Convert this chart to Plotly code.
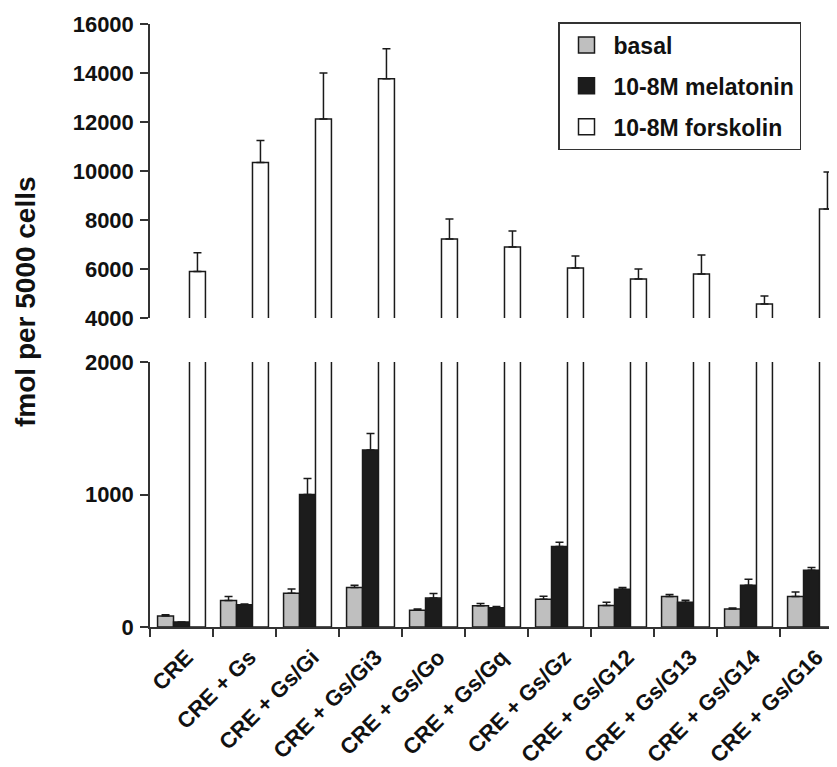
import plotly.graph_objects as go

categories = ["CRE", "CRE + Gs", "CRE + Gs/Gi", "CRE + Gs/Gi3", "CRE + Gs/Go",
              "CRE + Gs/Gq", "CRE + Gs/Gz", "CRE + Gs/G12", "CRE + Gs/G13",
              "CRE + Gs/G14", "CRE + Gs/G16"]
basal = [83, 200, 255, 298, 127, 160, 210, 162, 230, 135, 230]
basal_err = [10, 30, 32, 18, 8, 18, 22, 25, 15, 8, 35]
melatonin = [38, 167, 1000, 1335, 218, 145, 607, 284, 186, 315, 428]
melatonin_err = [0, 7, 120, 125, 35, 10, 33, 14, 15, 45, 22]
forskolin = [5900, 10350, 12120, 13770, 7220, 6900, 6040, 5590, 5800, 4570, 8450]
forskolin_err = [760, 890, 1880, 1220, 820, 650, 490, 410, 770, 330, 1510]

top_ticks = [4000, 6000, 8000, 10000, 12000, 14000, 16000]
top_tick_text = ["4000", "6000", "8000", "10000", "12000", "14000", "16000"]
bottom_ticks = [0, 1000, 2000]
bottom_tick_text = ["0", "1000", "2000"]

series = [
    ("basal", basal, basal_err, "#bfbfbf"),
    ("10-8M melatonin", melatonin, melatonin_err, "#1c1c1c"),
    ("10-8M forskolin", forskolin, forskolin_err, "#ffffff"),
]

xpos = list(range(len(categories)))
label_pos = [p + 0.08 for p in xpos]
EDGE = "#1a1a1a"
FONT = "Liberation Sans"

fig = go.Figure()
for xa, ya in (("x", "y"), ("x2", "y2")):
    for name, vals, errs, color in series:
        fig.add_trace(go.Bar(
            x=xpos, y=vals, name=name, xaxis=xa, yaxis=ya,
            marker=dict(color=color, line=dict(color=EDGE, width=1.5)),
            error_y=dict(type="data", symmetric=False, array=errs,
                         arrayminus=[0] * len(errs), color=EDGE,
                         thickness=1.5, width=4),
            showlegend=False,
        ))

# legend entries
for i, (name, vals, errs, color) in enumerate(series):
    fig.add_trace(go.Scatter(
        x=[None], y=[None], mode="markers", name=name, legendgroup=str(i),
        marker=dict(symbol="square", size=24, color=color,
                    line=dict(color=EDGE, width=1.5)),
        xaxis="x", yaxis="y",
    ))

# page body has an 8px margin: work in figure coords = screen - 8
W, H = 829, 759
l, r, t, b = 142, 0, 16, 140
ph = H - t - b
pw = W - l - r
top_dom = [(627 - 318) / ph, 1.0]
bot_dom = [0.0, (627 - 362) / ph]
xrange = [-0.5, -0.5 + pw / 63.0]

axis_font = dict(family=FONT, size=22, color="#111111", weight="bold")

fig.update_layout(
    width=W, height=H,
    margin=dict(l=l, r=r, t=t, b=b, autoexpand=False),
    paper_bgcolor="white", plot_bgcolor="white",
    barmode="group", bargap=0.24, bargroupgap=0,
    showlegend=True,
    legend=dict(
        x=(558 - 150) / pw, y=(627 - 22) / ph, xanchor="left", yanchor="top",
        bordercolor="#333333", borderwidth=1.5, bgcolor="white",
        font=dict(family=FONT, size=23, color="#111111", weight="bold"),
        tracegroupgap=8, itemsizing="trace", itemwidth=44,
    ),
    xaxis=dict(
        domain=[0, 1], range=xrange, anchor="y", automargin=False,
        tickmode="array", tickvals=label_pos, ticktext=categories,
        tickangle=-45, ticks="", showline=True, linecolor="#333333",
        linewidth=1.5, showgrid=False, zeroline=False,
        ticklabelstandoff=7,
        tickfont=dict(family=FONT, size=22, color="#111111", weight="bold"),
        minor=dict(ticks="outside", tick0=-0.5, dtick=1, ticklen=8,
                   tickwidth=1.5, tickcolor="#333333", showgrid=False),
    ),
    yaxis=dict(
        domain=bot_dom, range=[0, 2000], anchor="x", automargin=False,
        tickmode="array", tickvals=bottom_ticks, ticktext=bottom_tick_text,
        ticks="outside", ticklen=8, tickwidth=1.5, tickcolor="#333333",
        showline=True, linecolor="#333333", linewidth=1.5,
        showgrid=False, zeroline=False, tickfont=axis_font,
        ticklabelstandoff=2,
    ),
    xaxis2=dict(
        domain=[0, 1], range=xrange, anchor="y2", matches="x",
        visible=False, showgrid=False, zeroline=False, automargin=False,
    ),
    yaxis2=dict(
        domain=top_dom, range=[4000, 16000], anchor="x2", automargin=False,
        tickmode="array", tickvals=top_ticks, ticktext=top_tick_text,
        ticks="outside", ticklen=8, tickwidth=1.5, tickcolor="#333333",
        showline=True, linecolor="#333333", linewidth=1.5,
        showgrid=False, zeroline=False, tickfont=axis_font,
        ticklabelstandoff=2,
    ),
    annotations=[dict(
        text="fmol per 5000 cells", textangle=-90,
        xref="paper", yref="paper",
        x=(25 - 150) / pw, y=(627 - 302) / ph,
        xanchor="center", yanchor="middle", showarrow=False,
        font=dict(family=FONT, size=28, color="#111111", weight="bold"),
    )],
)

fig.write_html("out.html")
